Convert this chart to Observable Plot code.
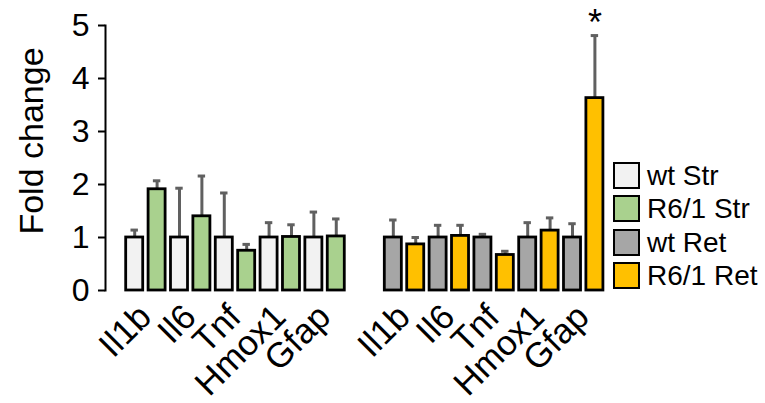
<!DOCTYPE html>
<html>
<head>
<meta charset="utf-8">
<script src="https://cdn.jsdelivr.net/npm/d3@7"></script>
<script src="https://cdn.jsdelivr.net/npm/@observablehq/plot@0.6"></script>
<style>
  html, body { margin: 0; padding: 0; background: #fff; }
  #wrap { position: relative; width: 765px; height: 403px; font-family: "Liberation Sans", Arial, sans-serif; }
  #legend { position: absolute; left: 613px; top: 162px; }
  .row { display: flex; align-items: flex-start; height: 27px; margin-bottom: 6.3px; }
  .sw { width: 27px; height: 27px; box-sizing: border-box; border: 2.8px solid #000; }
  .lab { margin-left: 7px; font-size: 28px; line-height: 27px; color: #000; white-space: nowrap; }
</style>
</head>
<body>
<div id="wrap"></div>
<script>
// ---- data ----
const genes = ["Il1b", "Il6", "Tnf", "Hmox1", "Gfap"];
const tissues = ["Str", "Ret"];
const seriesNames = ["wt Str", "R6/1 Str", "wt Ret", "R6/1 Ret"];
const seriesColors = ["#f2f2f2", "#a9d18e", "#a6a6a6", "#ffc000"];
const yTicks = [0, 1, 2, 3, 4, 5];
const yLabel = "Fold change";

const wtStr     = [1.00, 1.00, 1.00, 1.00, 1.00];
const wtStrErr  = [0.14, 0.93, 0.84, 0.28, 0.48];
const r6Str     = [1.91, 1.40, 0.75, 1.01, 1.02];
const r6StrErr  = [0.16, 0.76, 0.12, 0.23, 0.33];
const wtRet     = [1.00, 1.00, 1.00, 1.00, 1.00];
const wtRetErr  = [0.33, 0.23, 0.06, 0.28, 0.26];
const r6Ret     = [0.87, 1.03, 0.67, 1.13, 3.63];
const r6RetErr  = [0.13, 0.20, 0.07, 0.24, 1.18];
const r6RetSig  = ["", "", "", "", "*"];

// ---- build table ----
const seriesDefs = [
  {name: "wt Str",   tissue: "Str", geno: "wt",   v: wtStr, e: wtStrErr, s: null},
  {name: "R6/1 Str", tissue: "Str", geno: "R6/1", v: r6Str, e: r6StrErr, s: null},
  {name: "wt Ret",   tissue: "Ret", geno: "wt",   v: wtRet, e: wtRetErr, s: null},
  {name: "R6/1 Ret", tissue: "Ret", geno: "R6/1", v: r6Ret, e: r6RetErr, s: r6RetSig}
];
const rows = [];
for (const sd of seriesDefs) {
  genes.forEach((g, i) => {
    rows.push({
      series: sd.name, tissue: sd.tissue, gene: g,
      key: g + "|" + sd.geno,
      value: sd.v[i], top: sd.v[i] + sd.e[i],
      sig: sd.s ? sd.s[i] : ""
    });
  });
}
const xKeys = genes.flatMap(g => [g + "|wt", g + "|R6/1"]);
const labels = tissues.flatMap(t => genes.map(g => ({tissue: t, gene: g, key: g + "|wt"})));

const font = '"Liberation Sans", Arial, sans-serif';

const chart = Plot.plot({
  width: 765,
  height: 403,
  marginTop: 25,
  marginBottom: 113,
  marginLeft: 123,
  marginRight: 159.4,
  style: {fontFamily: font, background: "white", color: "#000", overflow: "visible"},
  fx: {domain: tissues, paddingInner: 0.134, paddingOuter: 0, round: false, axis: null, label: null},
  x: {domain: xKeys, paddingInner: 0.24, paddingOuter: 0.12, round: false, axis: null},
  y: {domain: [0, 5], axis: null},
  color: {domain: seriesNames, range: seriesColors},
  marks: [
    Plot.ruleX(rows, {fx: "tissue", x: "key", y1: "value", y2: "top", stroke: "#606060", strokeWidth: 3}),
    Plot.tickY(rows, {fx: "tissue", x: "key", y: "top", stroke: "#606060", strokeWidth: 3, insetLeft: 4.8, insetRight: 4.8}),
    Plot.barY(rows, {fx: "tissue", x: "key", y: "value", fill: "series", stroke: "#000", strokeWidth: 2.8}),
    Plot.text(rows.filter(d => d.sig), {fx: "tissue", x: "key", y: "top", text: "sig", fontSize: 36, lineAnchor: "bottom", dy: -1, fill: "#000"}),
    Plot.text(labels, {fx: "tissue", x: "key", text: "gene", frameAnchor: "bottom", rotate: -45, textAnchor: "end", lineAnchor: "top", dx: 1, dy: 11, fontSize: 35, fill: "#000"}),
    Plot.axisY({ticks: yTicks, tickFormat: d => String(d), fontSize: 32, tickSize: 7, tickPadding: 9, dx: -18, strokeWidth: 2, label: null}),
    Plot.frame({anchor: "left", facetAnchor: "left", dx: -18, strokeWidth: 2, stroke: "#000"}),
    Plot.text([yLabel], {fx: ["Str"], text: d => d, frameAnchor: "left", textAnchor: "middle", lineAnchor: "middle", rotate: -90, dx: -91, dy: -17, fontSize: 34, fill: "#000", letterSpacing: "1.4px"})
  ]
});
const wrap = document.getElementById("wrap");
wrap.appendChild(chart);

const legend = document.createElement("div");
legend.id = "legend";
seriesNames.forEach((n, i) => {
  const row = document.createElement("div");
  row.className = "row";
  const sw = document.createElement("div");
  sw.className = "sw";
  sw.style.background = seriesColors[i];
  const lab = document.createElement("div");
  lab.className = "lab";
  lab.textContent = n;
  row.appendChild(sw); row.appendChild(lab);
  legend.appendChild(row);
});
wrap.appendChild(legend);
</script>
</body>
</html>
